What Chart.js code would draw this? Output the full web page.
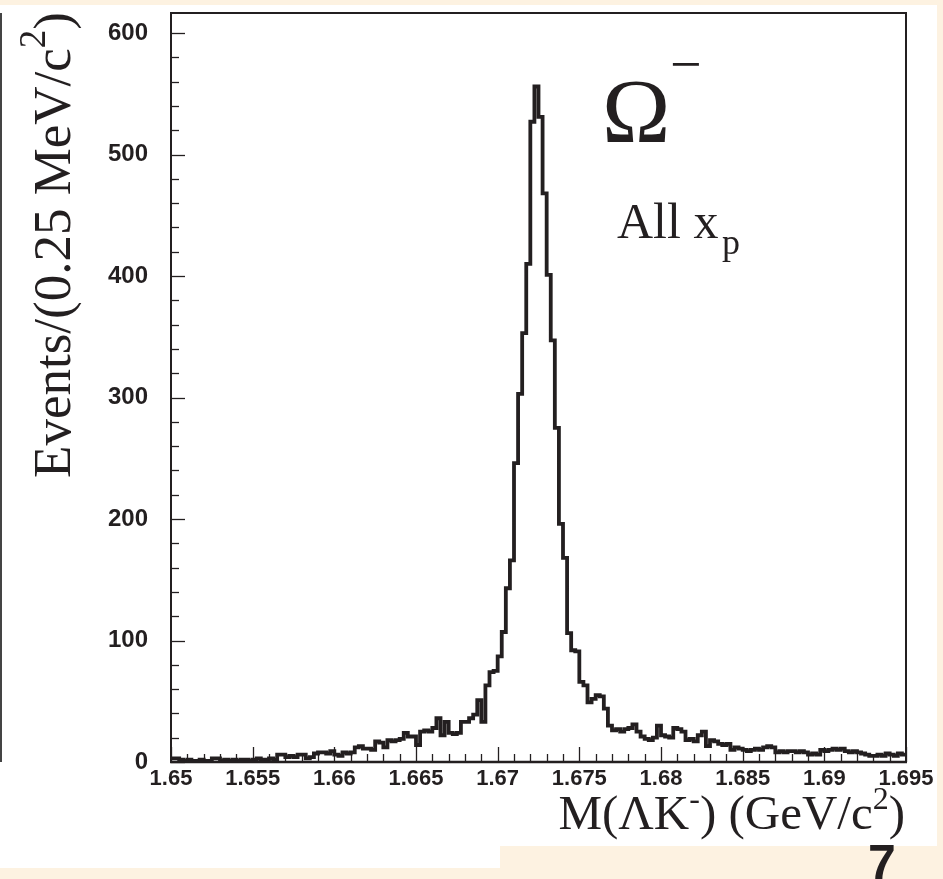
<!DOCTYPE html>
<html><head><meta charset="utf-8">
<script src="https://cdn.jsdelivr.net/npm/chart.js@4.4.1/dist/chart.umd.min.js"></script>
<style>html,body{margin:0;padding:0;background:#fdf2e1;}#wrap{width:943px;height:879px;position:relative;}canvas{display:block;}</style>
</head><body><div id="wrap"><canvas id="c" width="943" height="879"></canvas></div>
<script>
const binLow = 1.65;
const binHigh = 1.695;
const binWidth = 0.00025;
const counts = [
  3,3,2,1,2,1,1,2,1,1,
  3,3,1,2,1,2,1,2,2,1,
  2,3,2,2,3,2,6,6,4,5,
  4,6,6,3,4,7,8,8,7,9,
  6,5,8,7,8,12,13,11,11,10,
  17,16,12,18,17,18,19,24,21,21,
  14,25,26,25,28,36,22,33,24,23,
  24,33,33,36,39,51,33,63,74,75,
  87,107,143,166,246,303,353,410,527,556,
  531,468,401,347,275,196,168,106,92,91,
  66,63,49,52,55,54,44,30,26,27,
  25,27,28,31,25,21,19,18,20,30,
  22,21,20,28,27,25,18,19,17,22,
  25,13,18,17,15,14,15,10,12,11,
  10,9,10,11,10,12,13,12,8,9,
  8,9,9,8,9,8,6,7,6,10,
  9,10,11,10,11,9,8,9,8,7,
  6,5,5,6,5,7,6,5,7,6
];
const xTickValues = [1.65,1.655,1.66,1.665,1.67,1.675,1.68,1.685,1.69,1.695];
const xTickLabels = ['1.65','1.655','1.66','1.665','1.67','1.675','1.68','1.685','1.69','1.695'];
const yTickValues = [0,100,200,300,400,500,600];
const yTickLabels = ['0','100','200','300','400','500','600'];
const yTitleRuns = [['Events/(0.25 MeV/c',53,0],['2',37,-25],[')',53,0]];
const xTitleRuns = [['M(\u039BK',49,0],['-',32,-20],[') (GeV/c',49,0],['2',32,-20],[')',49,0]];

const INK = '#231f20';
const SERIF = '"Liberation Serif","Times New Roman",serif';
const SANS = '"Liberation Sans",Arial,Helvetica,sans-serif';

const points = counts.map((v,i)=>({x: binLow + i*binWidth, y: v}));
points.push({x: binLow + counts.length*binWidth, y: counts[counts.length-1]});

function near(v, arr, tol){ for(let i=0;i<arr.length;i++){ if(Math.abs(v-arr[i])<tol) return i; } return -1; }

function drawRuns(ctx, runs, x, y, align){
  let w = 0;
  runs.forEach(r=>{ ctx.font = r[1]+'px '+SERIF; w += ctx.measureText(r[0]).width; });
  let cx = align==='center' ? x - w/2 : (align==='right' ? x - w : x);
  ctx.textAlign='left'; ctx.textBaseline='alphabetic';
  runs.forEach(r=>{ ctx.font = r[1]+'px '+SERIF; ctx.fillText(r[0], cx, y + r[2]); cx += ctx.measureText(r[0]).width; });
}

const decor = {
  id:'decor',
  beforeDraw(chart){
    const ctx = chart.ctx;
    ctx.save();
    ctx.fillStyle = '#fdf2e1';
    ctx.fillRect(0,0,943,879);
    ctx.fillStyle = '#ffffff';
    ctx.fillRect(0,5,500,863);
    ctx.fillRect(500,5,437,841);
    ctx.restore();
  },
  afterDraw(chart){
    const ctx = chart.ctx, a = chart.chartArea, xs = chart.scales.x, ys = chart.scales.y;
    ctx.save();
    ctx.strokeStyle = INK;
    ctx.lineWidth = 1.3;
    xs.ticks.forEach(t=>{
      const major = near(t.value, xTickValues, 1e-7) >= 0;
      const px = Math.round(xs.getPixelForValue(t.value)) + 0.5;
      ctx.beginPath(); ctx.moveTo(px, a.bottom); ctx.lineTo(px, a.bottom - (major?15:8)); ctx.stroke();
    });
    ys.ticks.forEach(t=>{
      if (Math.abs(t.value/20 - Math.round(t.value/20))>1e-6) return;
      const major = near(t.value, yTickValues, 1e-6) >= 0;
      const py = Math.round(ys.getPixelForValue(t.value)) + 0.5;
      ctx.beginPath(); ctx.moveTo(a.left, py); ctx.lineTo(a.left + (major?14:8), py); ctx.stroke();
    });
    ctx.lineWidth = 2;
    ctx.strokeRect(a.left, a.top, a.right - a.left, a.bottom - a.top);
    ctx.lineWidth = 2.5;
    ctx.beginPath(); ctx.moveTo(a.left-1, a.bottom); ctx.lineTo(a.right+1, a.bottom); ctx.stroke();
    ctx.strokeStyle = '#444';
    ctx.lineWidth = 2;
    ctx.beginPath(); ctx.moveTo(1, a.top); ctx.lineTo(1, a.bottom); ctx.stroke();
    ctx.fillStyle = INK;
    ctx.save();
    ctx.translate(70, 245); ctx.rotate(-Math.PI/2);
    drawRuns(ctx, yTitleRuns, 0, 0, 'center');
    ctx.restore();
    drawRuns(ctx, xTitleRuns, 905, 829, 'right');
    ctx.font = '92px '+SERIF; ctx.textAlign='left'; ctx.textBaseline='alphabetic';
    ctx.fillText('\u03A9', 602, 142);
    ctx.font = '56px '+SERIF;
    ctx.fillText('\u2212', 670, 83);
    ctx.font = '50px '+SERIF;
    ctx.fillText('All x', 617, 238);
    ctx.font = '36px '+SERIF;
    ctx.fillText('p', 722, 254);
    ctx.font = 'bold 50px '+SANS;
    ctx.fillText('7', 868, 880);
    ctx.restore();
  }
};

new Chart(document.getElementById('c'), {
  type:'line',
  data:{ datasets:[{ data: points, stepped:'before', borderColor: INK, borderWidth:3.8, pointRadius:0, fill:false, tension:0, borderJoinStyle:'miter', borderCapStyle:'butt' }] },
  options:{
    responsive:false, animation:false, devicePixelRatio:1,
    layout:{ padding:{ top:13, right:37, bottom:0, left:0 } },
    plugins:{ legend:{display:false}, tooltip:{enabled:false}, title:{display:false} },
    scales:{
      x:{ type:'linear', min:binLow, max:binHigh,
        grid:{display:false, drawTicks:false, tickLength:0}, border:{display:false},
        afterFit:(s)=>{ s.height = 117; s.paddingLeft = 0; s.paddingRight = 0; },
        ticks:{ stepSize:0.001, autoSkip:false, maxRotation:0, minRotation:0, includeBounds:false, padding:4,
          color:INK, font:{family:SANS, size:22, weight:'bold'},
          callback:(v)=>{ const i = near(v, xTickValues, 1e-7); return i>=0 ? xTickLabels[i] : ''; } } },
      y:{ type:'linear', min:0, max:616.5,
        grid:{display:false, drawTicks:false, tickLength:0}, border:{display:false},
        afterFit:(s)=>{ s.width = 171; s.paddingTop = 0; s.paddingBottom = 0; },
        ticks:{ stepSize:20, autoSkip:false, includeBounds:false, padding:23,
          color:INK, font:{family:SANS, size:24, weight:'bold'},
          callback:(v)=>{ const i = near(v, yTickValues, 1e-6); return i>=0 ? yTickLabels[i] : ''; } } }
    }
  },
  plugins:[decor]
});
</script></body></html>
